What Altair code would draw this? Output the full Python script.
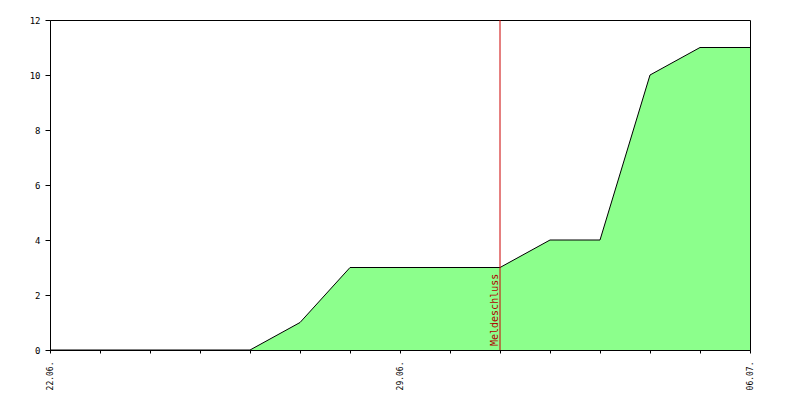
import altair as alt
import pandas as pd

dates = ["2023-06-22", "2023-06-23", "2023-06-24", "2023-06-25", "2023-06-26",
         "2023-06-27", "2023-06-28", "2023-06-29", "2023-06-30", "2023-07-01",
         "2023-07-02", "2023-07-03", "2023-07-04", "2023-07-05", "2023-07-06"]
counts = [0, 0, 0, 0, 0, 1, 3, 3, 3, 3, 4, 4, 10, 11, 11]
deadline_date = ["2023-07-01"]
deadline_label = ["Meldeschluss"]
label_dates = ["22.06.", "29.06.", "06.07."]
y_ticks = [0, 2, 4, 6, 8, 10, 12]

df = pd.DataFrame({"date": dates, "count": counts})
dl = pd.DataFrame({"date": deadline_date, "label": deadline_label, "y": [0]})

def dt(s):
    y, m, d = s.split("-")
    return alt.DateTime(year=int(y), month=int(m), date=int(d), utc=True)

font = "DejaVu Sans Mono"
label_list = "[" + ",".join("'" + s + "'" for s in label_dates) + "]"

x_enc = alt.X(
    "utcyearmonthdate(date):T",
    scale=alt.Scale(type="utc", domain=[dt(dates[0]), dt(dates[-1])]),
    axis=alt.Axis(
        values=[dt(s) for s in dates],
        labelExpr="indexof(" + label_list + ", utcFormat(datum.value, '%d.%m.')) >= 0 ? utcFormat(datum.value, '%d.%m.') : ''",
        labelAngle=270,
        labelAlign="right",
        labelBaseline="middle",
        labelFont=font,
        labelFontSize=8,
        labelColor="black",
        labelPadding=8,
        labelOverlap=False,
        labelFlush=False,
        tickSize=3,
        tickColor="black",
        domainColor="black",
        grid=False,
        title=None,
    ),
)

y_enc = alt.Y(
    "count:Q",
    scale=alt.Scale(domain=[0, 12], nice=False),
    axis=alt.Axis(
        values=y_ticks,
        labelFont=font,
        labelFontSize=9,
        labelColor="black",
        labelPadding=5,
        tickSize=5,
        tickColor="black",
        domainColor="black",
        grid=False,
        title=None,
    ),
)

area = alt.Chart(df).mark_area(
    color="#8cff8c", line={"color": "black", "strokeWidth": 1}, opacity=1
).encode(x=x_enc, y=y_enc)

rule = alt.Chart(dl).mark_rule(color="#cc0000", strokeWidth=1).encode(
    x=alt.X("utcyearmonthdate(date):T")
)

text = alt.Chart(dl).mark_text(
    angle=270, align="left", baseline="bottom", dx=4, dy=0,
    font=font, fontSize=10, color="#b00000"
).encode(
    x=alt.X("utcyearmonthdate(date):T"),
    y=alt.Y("y:Q"),
    text="label:N",
)

chart = alt.layer(area, rule, text).properties(
    width=700, height=330,
    autosize=alt.AutoSizeParams(type="none"),
    padding={"left": 42, "top": 12, "right": 42, "bottom": 48},
    background="white",
).configure_view(stroke="black", strokeWidth=1)

chart.save("out.html", embed_options={"renderer": "svg", "actions": False})
